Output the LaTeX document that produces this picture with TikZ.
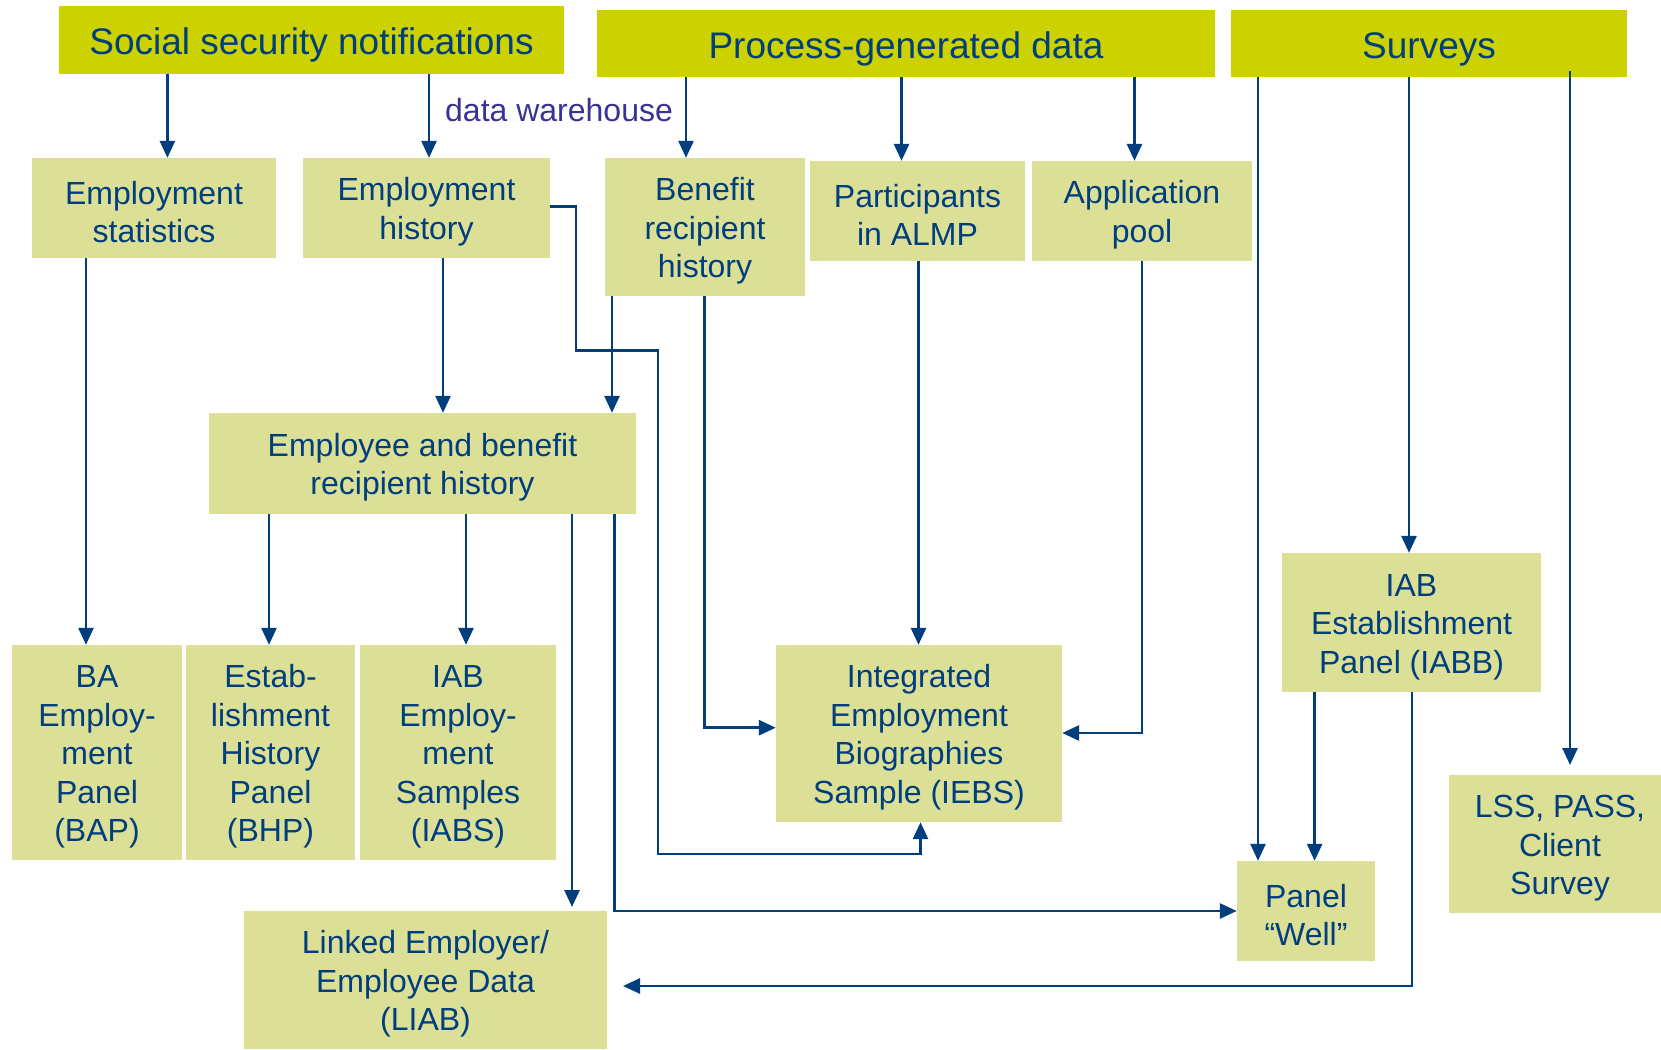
\documentclass[tikz,border=0pt]{standalone}
\usepackage{fontspec}
\setmainfont{Liberation Sans}
\usetikzlibrary{arrows.meta}
\definecolor{topc}{RGB}{204,210,0}
\definecolor{boxc}{RGB}{220,224,150}
\definecolor{txtc}{RGB}{0,62,126}
\definecolor{linec}{RGB}{0,62,126}
\definecolor{dwc}{RGB}{58,50,150}
\newcommand\tstrut{\rule{0pt}{31pt}}
\begin{document}
\begin{tikzpicture}[x=1pt,y=-1pt,
  topbox/.style={fill=topc,text=txtc,inner sep=0pt,align=center,font=\fontsize{37}{44}\selectfont,execute at begin node={\rule{0pt}{37.6pt}}},
  box/.style={fill=boxc,text=txtc,inner sep=0pt,align=center,font=\fontsize{32}{38.5}\selectfont},
  arr/.style={draw=linec,line width=2.8pt,-{Triangle[length=17pt,width=15pt]}},
  ln/.style={draw=linec,line width=2.8pt}]
\useasboundingbox (0,0) rectangle (1661,1049);
\fill[white] (0,0) rectangle (1661,1049);
% top boxes
\node[topbox,minimum width=505pt,minimum height=68pt] (soc) at (311.5,40) {Social security notifications};
\node[topbox,minimum width=618pt,minimum height=67pt] (proc) at (906,43.5) {Process-generated data};
\node[topbox,minimum width=396pt,minimum height=67pt] (surv) at (1429,43.5) {Surveys};
% second row
\node[box,minimum width=244pt,minimum height=100pt] (estat) at (154,208) {\tstrut Employment\\statistics};
\node[box,minimum width=247pt,minimum height=100pt] (ehist) at (426.5,208) {\tstrut Employment\\history};
\node[box,minimum width=200pt,minimum height=138pt] (bhist) at (705,227) {\tstrut Benefit\\recipient\\history};
\node[box,minimum width=215pt,minimum height=100pt] (almp) at (917.5,211) {\tstrut Participants\\in ALMP};
\node[box,minimum width=220pt,minimum height=100pt] (apool) at (1142,211) {\tstrut Application\\pool};
\node[box,minimum width=427pt,minimum height=101pt] (ebrh) at (422.5,463.5) {\tstrut Employee and benefit\\recipient history};
% bottom
\node[box,minimum width=170pt,minimum height=215pt] (bap) at (97,752.5) {\tstrut BA\\Employ-\\ment\\Panel\\(BAP)};
\node[box,minimum width=169pt,minimum height=215pt] (bhp) at (270.5,752.5) {\tstrut Estab-\\lishment\\History\\Panel\\(BHP)};
\node[box,minimum width=196pt,minimum height=215pt] (iabs) at (458,752.5) {\tstrut IAB\\Employ-\\ment\\Samples\\(IABS)};
\node[box,minimum width=286pt,minimum height=177pt] (iebs) at (919,733.5) {\tstrut Integrated\\Employment\\Biographies\\Sample (IEBS)};
\node[box,minimum width=259pt,minimum height=139pt] (iabb) at (1411.5,622.5) {\tstrut IAB\\Establishment\\Panel (IABB)};
\node[box,minimum width=222pt,minimum height=138pt] (lss) at (1560,844) {\tstrut LSS, PASS,\\Client\\Survey};
\node[box,minimum width=138pt,minimum height=100pt] (well) at (1306,911) {\tstrut Panel\\“Well”};
\node[box,minimum width=363pt,minimum height=138pt] (liab) at (425.5,980) {\tstrut Linked Employer/\\Employee Data\\(LIAB)};
% label
\node[text=dwc,anchor=west,inner sep=0pt,font=\fontsize{32}{38}\selectfont] (dw) at (445,110) {data warehouse};
% arrows from top
\draw[arr] (167.4,0 |- soc.south) -- (167.4,0 |- estat.north);
\draw[arr] (429,0 |- soc.south) -- (429,0 |- ehist.north);
\draw[arr] (686,0 |- proc.south) -- (686,0 |- bhist.north);
\draw[arr] (901.5,0 |- proc.south) -- (901.5,0 |- almp.north);
\draw[arr] (1134.5,0 |- proc.south) -- (1134.5,0 |- apool.north);
\draw[arr] (1258,0 |- surv.south) -- (1258,0 |- well.north);
\draw[arr] (1409,0 |- surv.south) -- (1409,0 |- iabb.north);
\coordinate (lsstip) at (1570,765);
\draw[arr] (1570,71) -- (lsstip);
% second row down
\draw[arr] (86,0 |- estat.south) -- (86,0 |- bap.north);
\draw[arr] (443,0 |- ehist.south) -- (443,0 |- ebrh.north);
\draw[arr] (612,0 |- bhist.south) -- (612,0 |- ebrh.north);
\draw[arr] (ehist.east |- 0,206.5) -- (576,206.5) -- (576,350.6) -- (658,350.6) -- (658,854) -- (920.5,854) -- (920.5,0 |- iebs.south);
\draw[arr] (704.5,0 |- bhist.south) -- (704.5,727.7) -- (iebs.west |- 0,727.7);
\draw[arr] (918.5,0 |- almp.south) -- (918.5,0 |- iebs.north);
\draw[arr] (1142,0 |- apool.south) -- (1142,733) -- (iebs.east |- 0,733);
% from ebrh
\draw[arr] (269,0 |- ebrh.south) -- (269,0 |- bhp.north);
\draw[arr] (466,0 |- ebrh.south) -- (466,0 |- iabs.north);
\coordinate (liabtip) at (572,907);
\draw[arr] (572,0 |- ebrh.south) -- (liabtip);
\draw[arr] (614.4,0 |- ebrh.south) -- (614.4,911) -- (well.west |- 0,911);
% from iabb
\draw[arr] (1314.6,0 |- iabb.south) -- (1314.6,0 |- well.north);
\coordinate (liabtip2) at (623,986);
\draw[arr] (1412,0 |- iabb.south) -- (1412,986) -- (liabtip2);
\end{tikzpicture}
\end{document}
